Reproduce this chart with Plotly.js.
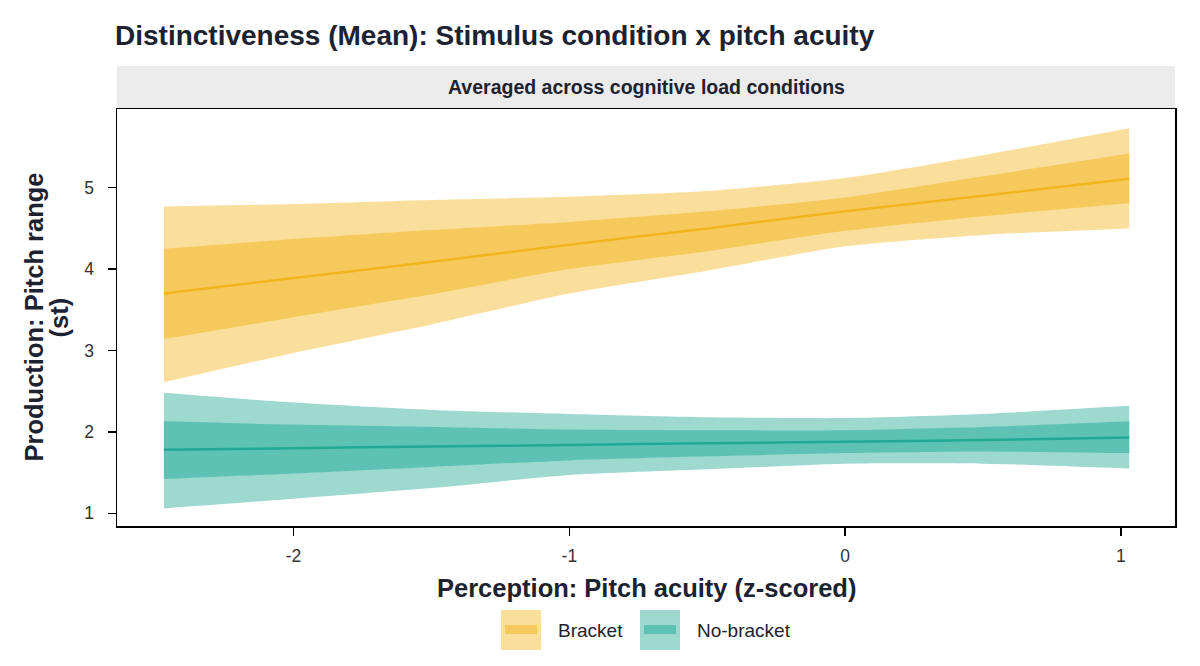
<!DOCTYPE html>
<html>
<head>
<meta charset="utf-8">
<script src="https://cdn.plot.ly/plotly-3.0.1.min.js"></script>
<style>
  html, body { margin: 0; padding: 0; background: #ffffff; }
  #chart { width: 1200px; height: 666px; }
</style>
</head>
<body>
<div id="chart"></div>
<script>
/* Posterior ribbons (outer / inner interval) plus mean line per stimulus condition. */

const INK = "#1c2230";
const TICK_INK = "#333333";
const FONT = '"Liberation Sans", Arial, sans-serif';

// x grid: pitch acuity (z-scored)
const acuity = [-2.47, -2.0, -1.5, -1.0, -0.5, 0.0, 0.5, 1.03];

// Bracket
const bracketMean    = [3.70, 3.89, 4.09, 4.30, 4.50, 4.71, 4.90, 5.11];
const bracketInnerHi = [4.25, 4.37, 4.48, 4.58, 4.71, 4.88, 5.14, 5.42];
const bracketInnerLo = [3.14, 3.41, 3.69, 4.00, 4.22, 4.47, 4.65, 4.81];
const bracketOuterHi = [4.77, 4.80, 4.85, 4.89, 4.96, 5.12, 5.40, 5.73];
const bracketOuterLo = [2.61, 2.97, 3.32, 3.70, 3.98, 4.28, 4.42, 4.50];

// No-bracket
const noBracketMean    = [1.78, 1.80, 1.82, 1.84, 1.86, 1.88, 1.90, 1.93];
const noBracketInnerHi = [2.13, 2.09, 2.06, 2.03, 2.02, 2.02, 2.06, 2.13];
const noBracketInnerLo = [1.42, 1.49, 1.57, 1.65, 1.70, 1.74, 1.76, 1.74];
const noBracketOuterHi = [2.48, 2.36, 2.27, 2.22, 2.18, 2.17, 2.22, 2.32];
const noBracketOuterLo = [1.06, 1.18, 1.31, 1.47, 1.54, 1.61, 1.61, 1.55];

const xTicks = [-2, -1, 0, 1];
const yTicks = [1, 2, 3, 4, 5];

const GROUPS = [
  { name: "Bracket", mean: bracketMean, innerHi: bracketInnerHi, innerLo: bracketInnerLo,
    outerHi: bracketOuterHi, outerLo: bracketOuterLo,
    line: "#f2b41c", inner: "#f6c95c", outer: "#fade9b" },
  { name: "No-bracket", mean: noBracketMean, innerHi: noBracketInnerHi, innerLo: noBracketInnerLo,
    outerHi: noBracketOuterHi, outerLo: noBracketOuterLo,
    line: "#20aa95", inner: "#5dc2b3", outer: "#9dd9cf" },
];

// band edges drawn as gentle splines, like the smooth posterior ribbons
const EDGE = { width: 0, shape: "spline", smoothing: 0.6 };

function band(lo, hi, color) {
  return [
    { x: acuity, y: lo, mode: "lines", line: EDGE, hoverinfo: "skip", showlegend: false },
    { x: acuity, y: hi, mode: "lines", line: EDGE, fill: "tonexty",
      fillcolor: color, hoverinfo: "skip", showlegend: false },
  ];
}

const traces = [];
for (const g of GROUPS) {
  traces.push(...band(g.outerLo, g.outerHi, g.outer));
  traces.push(...band(g.innerLo, g.innerHi, g.inner));
  traces.push({ x: acuity, y: g.mean, mode: "lines", name: g.name,
    line: { width: 2.5, color: g.line, shape: "spline", smoothing: 0.6 }, showlegend: false });
}

// plot area in pixels (used to place the strip, axis titles and the hand-drawn legend)
const M = { l: 117, r: 25, t: 109, b: 140 };
const W = 1200, H = 666;
const pw = W - M.l - M.r, ph = H - M.t - M.b;
const px = (x) => (x - M.l) / pw;
const py = (y) => (H - M.b - y) / ph;

const shapes = [
  // facet strip
  { type: "rect", xref: "paper", yref: "paper", x0: 0, x1: 1, y0: py(108), y1: py(66),
    fillcolor: "#ebebeb", line: { width: 0 } },
];
const titleFont = { family: FONT, size: 25.5, color: INK };
const annotations = [
  { xref: "paper", yref: "paper", x: 0.5, y: py(87), xanchor: "center", yanchor: "middle",
    text: "<b>Averaged across cognitive load conditions</b>", showarrow: false,
    font: { family: FONT, size: 19.5, color: INK } },
  // axis titles (ggplot-style tight line spacing, so drawn as separate lines)
  { xref: "paper", yref: "paper", x: 0.5, y: py(588), xanchor: "center", yanchor: "middle",
    text: "<b>Perception: Pitch acuity (z-scored)</b>", showarrow: false, font: titleFont },
  { xref: "paper", yref: "paper", x: px(33), y: 0.5, xanchor: "center", yanchor: "middle",
    textangle: -90, text: "<b>Production: Pitch range</b>", showarrow: false, font: titleFont },
  { xref: "paper", yref: "paper", x: px(58), y: 0.5, xanchor: "center", yanchor: "middle",
    textangle: -90, text: "<b>(st)</b>", showarrow: false, font: titleFont },
];

// legend keys
const keyX = [501, 640];
const labelX = [558, 697];
GROUPS.forEach((g, i) => {
  shapes.push({ type: "rect", xref: "paper", yref: "paper",
    x0: px(keyX[i]), x1: px(keyX[i] + 40), y0: py(650), y1: py(610),
    fillcolor: g.outer, line: { width: 0 } });
  shapes.push({ type: "rect", xref: "paper", yref: "paper",
    x0: px(keyX[i] + 4), x1: px(keyX[i] + 36), y0: py(634), y1: py(625),
    fillcolor: g.inner, line: { width: 0 } });
  annotations.push({ xref: "paper", yref: "paper", x: px(labelX[i] - 2), y: py(630),
    xanchor: "left", yanchor: "middle", text: g.name, showarrow: false,
    font: { family: FONT, size: 19, color: INK } });
});

const layout = {
  width: W, height: H,
  margin: M,
  paper_bgcolor: "#ffffff",
  plot_bgcolor: "#ffffff",
  font: { family: FONT, color: INK },
  showlegend: false,
  title: {
    text: "<b>Distinctiveness (Mean): Stimulus condition x pitch acuity</b>",
    x: (M.l - 2) / W, xanchor: "left", y: 1 - 35 / H, yanchor: "middle",
    font: { family: FONT, size: 28, color: INK },
  },
  xaxis: {
    range: [-2.64, 1.196], tickvals: xTicks, ticktext: xTicks.map(String),
    showgrid: false, zeroline: false,
    showline: true, mirror: true, linecolor: "#000000", linewidth: 1.5,
    ticks: "outside", ticklen: 8, tickwidth: 1.5, tickcolor: "#000000",
    ticklabelstandoff: 5,
    tickfont: { family: FONT, size: 17.5, color: TICK_INK },
  },
  yaxis: {
    range: [0.844, 5.967], tickvals: yTicks, ticktext: yTicks.map(String),
    showgrid: false, zeroline: false,
    showline: true, mirror: true, linecolor: "#000000", linewidth: 1.5,
    ticks: "outside", ticklen: 8, tickwidth: 1.5, tickcolor: "#000000",
    ticklabelstandoff: 10,
    tickfont: { family: FONT, size: 17.5, color: TICK_INK },
  },
  shapes,
  annotations,
};

Plotly.newPlot("chart", traces, layout, { displayModeBar: false, staticPlot: true });
</script>
</body>
</html>
